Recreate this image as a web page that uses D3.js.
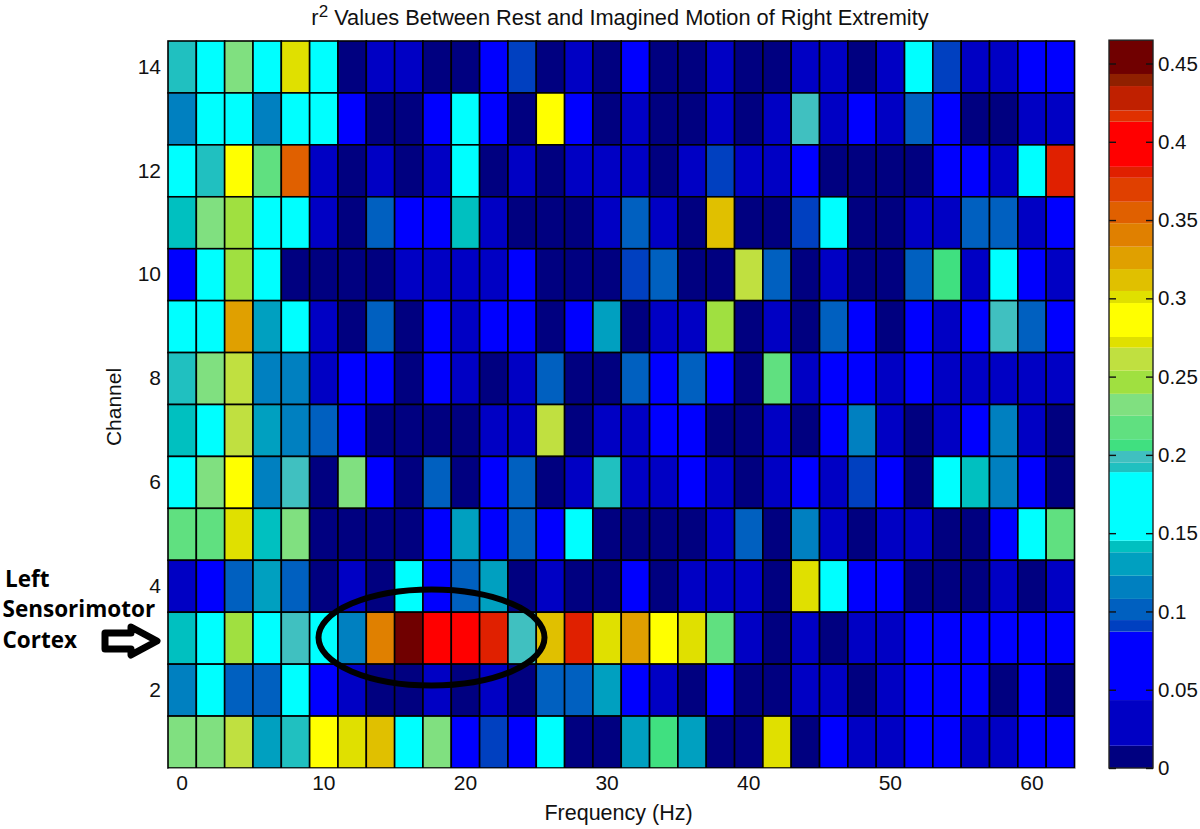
<!DOCTYPE html>
<html>
<head>
<meta charset="utf-8">
<script src="https://cdn.jsdelivr.net/npm/d3@7"></script>
<style>
  html, body { margin: 0; padding: 0; background: #fff; }
  svg { display: block; }
  text { font-family: "Liberation Sans", Arial, sans-serif; fill: #111; }
</style>
</head>
<body>
<svg id="graphsvg" width="1200" height="829"></svg>
<script>
var frequencies = d3.range(0, 64, 2);
var channels = [14, 13, 12, 11, 10, 9, 8, 7, 6, 5, 4, 3, 2, 1];

// r2 value per channel, top row first, one entry per frequency bin
var values = [
  [.192,.165,.232,.165,.272,.165,.007,.03,.03,.007,.007,.065,.09,.007,.03,.007, .065,.007,.007,.03,.007,.007,.03,.03,.007,.03,.165,.09,.03,.03,.065,.065],
  [.115,.165,.165,.115,.165,.165,.065,.007,.007,.065,.165,.065,.007,.285,.065,.007, .03,.007,.007,.03,.007,.03,.2,.03,.065,.03,.1,.065,.007,.007,.03,.03],
  [.165,.192,.285,.218,.355,.03,.007,.03,.007,.03,.165,.007,.03,.007,.03,.03, .03,.007,.03,.09,.03,.03,.065,.007,.007,.007,.007,.065,.065,.03,.165,.38],
  [.14,.232,.246,.165,.165,.03,.007,.1,.065,.065,.14,.03,.007,.007,.007,.03, .1,.03,.007,.31,.007,.007,.09,.165,.007,.007,.03,.03,.1,.1,.03,.065],
  [.065,.165,.246,.165,.007,.007,.007,.007,.03,.03,.03,.03,.065,.007,.007,.007, .09,.1,.007,.007,.26,.1,.007,.03,.007,.007,.1,.206,.03,.165,.065,.03],
  [.165,.165,.325,.13,.165,.03,.007,.1,.007,.065,.03,.065,.065,.007,.065,.13, .007,.03,.03,.246,.007,.03,.007,.1,.065,.007,.065,.03,.065,.2,.1,.065],
  [.192,.232,.26,.115,.115,.03,.065,.065,.007,.065,.03,.007,.03,.1,.007,.007, .1,.065,.1,.065,.007,.218,.03,.065,.065,.03,.065,.03,.03,.03,.03,.03],
  [.14,.165,.26,.13,.115,.1,.065,.007,.007,.007,.007,.03,.03,.26,.007,.03, .03,.065,.065,.007,.007,.03,.007,.065,.115,.03,.007,.03,.065,.115,.03,.007],
  [.165,.232,.285,.115,.2,.007,.232,.065,.007,.1,.007,.065,.1,.007,.03,.192, .03,.03,.065,.03,.007,.03,.065,.03,.09,.065,.007,.165,.14,.115,.065,.007],
  [.218,.218,.272,.14,.232,.007,.007,.007,.007,.065,.13,.065,.1,.065,.165,.007, .007,.007,.007,.03,.1,.007,.115,.03,.007,.03,.03,.007,.007,.065,.165,.218],
  [.03,.065,.1,.13,.1,.007,.03,.007,.165,.065,.1,.13,.007,.03,.007,.007, .065,.007,.03,.03,.03,.007,.272,.165,.065,.065,.007,.007,.007,.03,.007,.03],
  [.14,.165,.246,.165,.2,.165,.115,.34,.455,.4,.4,.38,.2,.31,.38,.272, .325,.285,.272,.218,.03,.007,.03,.007,.03,.03,.065,.065,.065,.065,.065,.065],
  [.115,.165,.1,.1,.165,.065,.03,.007,.007,.03,.007,.03,.007,.1,.1,.13, .065,.03,.007,.065,.007,.007,.03,.03,.007,.03,.065,.065,.065,.007,.065,.007],
  [.232,.232,.26,.13,.192,.285,.272,.31,.165,.232,.065,.09,.065,.165,.007,.007, .13,.206,.13,.007,.007,.272,.007,.065,.03,.03,.065,.065,.03,.03,.065,.065]
];

// the colour map of the picture, with uneven steps
var colorBreaks = [.0142,.0434,.0871,.0945,.108,.1228,.1378,.1452,.189,.195,.2025,.21,.225,.239,.2538,.2685,.2753,.297,.3047,.3187,.333,.348,.3617,.377,.384,.4128,.42,.4356,.4433];
var colorRange = ["#000080","#0000c4","#0000ff","#0040c0","#0060c0","#0080c0","#00a0c0","#00c0c0","#00ffff","#20c0c0","#40c0c0","#40e080","#60e080","#80e080","#a0e040","#c0e040","#e0e000","#ffff00","#e0e000","#e0c000","#e0a000","#e08000","#e06000","#e04000","#e02000","#ff0000","#e03000","#c02000","#902000","#700000"];
var colorTicks = [0, .05, .1, .15, .2, .25, .3, .35, .4, .45];
var maxValue = .4649;

var freqTicks = [0, 10, 20, 30, 40, 50, 60];
var channelTicks = [2, 4, 6, 8, 10, 12, 14];
var noteLines = ["Left", "Sensorimotor", "Cortex"];

var svg = d3.select("#graphsvg");

var x = d3.scaleBand().domain(frequencies).range([168, 1074.5]);
var y = d3.scaleBand().domain(channels).range([41, 768]);
var color = d3.scaleThreshold().domain(colorBreaks).range(colorRange);
var cy = d3.scaleLinear().domain([0, .45]).range([768, 63.5]);

var cells = [];
values.forEach(function(row, i) {
  row.forEach(function(v, j) {
    cells.push({channel: channels[i], freq: frequencies[j], value: v});
  });
});

svg.append("g").selectAll("rect")
    .data(cells)
  .enter().append("rect")
    .attr("x", function(d) { return x(d.freq); })
    .attr("y", function(d) { return y(d.channel); })
    .attr("width", x.bandwidth())
    .attr("height", y.bandwidth())
    .attr("fill", function(d) { return color(d.value); })
    .attr("stroke", "#000")
    .attr("stroke-width", 1.6);

var xAxis = svg.append("g")
    .attr("transform", "translate(0,768)")
    .call(d3.axisBottom(x).tickValues(freqTicks).tickSize(0).tickPadding(7));
var yAxis = svg.append("g")
    .attr("transform", "translate(168,0)")
    .call(d3.axisLeft(y).tickValues(channelTicks).tickSize(0).tickPadding(7));
xAxis.select(".domain").attr("stroke", "#999");
yAxis.select(".domain").attr("stroke", "none");
xAxis.selectAll("text").style("font-size", "21px").attr("fill", "#111");
yAxis.selectAll("text").style("font-size", "21px").attr("fill", "#111");

// light edge on the right of the plot box
svg.append("line")
    .attr("x1", 1075.5).attr("x2", 1075.5)
    .attr("y1", 41).attr("y2", 768)
    .attr("stroke", "#aaa");

svg.append("text")
    .attr("x", 618.5).attr("y", 820)
    .attr("text-anchor", "middle")
    .style("font-size", "21.5px")
    .text("Frequency (Hz)");

svg.append("text")
    .attr("transform", "translate(121,407) rotate(-90)")
    .attr("text-anchor", "middle")
    .style("font-size", "21px")
    .text("Channel");

var title = svg.append("text")
    .attr("x", 620).attr("y", 25)
    .attr("text-anchor", "middle")
    .style("font-size", "21.8px");
title.append("tspan").text("r");
title.append("tspan").attr("dy", -8).style("font-size", "17px").text("2");
title.append("tspan").attr("dy", 8).text(" Values Between Rest and Imagined Motion of Right Extremity");

// colour bar, one rect per step of the map
var bar = svg.append("g");
var barBands = colorRange.map(function(c, i) {
  return {color: c, low: i ? colorBreaks[i - 1] : 0, high: i < colorBreaks.length ? colorBreaks[i] : maxValue};
});
bar.selectAll("rect")
    .data(barBands)
  .enter().append("rect")
    .attr("x", 1109)
    .attr("width", 44)
    .attr("y", function(d) { return cy(d.high); })
    .attr("height", function(d) { return cy(d.low) - cy(d.high); })
    .attr("fill", function(d) { return d.color; });
bar.append("rect")
    .attr("x", 1109).attr("y", cy(maxValue))
    .attr("width", 44).attr("height", cy(0) - cy(maxValue))
    .attr("fill", "none").attr("stroke", "#222").attr("stroke-width", 1.4);

var barAxis = svg.append("g")
    .attr("transform", "translate(1153,0)")
    .call(d3.axisRight(cy).tickValues(colorTicks).tickFormat(function(d) { return d; }).tickSize(-7).tickPadding(13));
barAxis.select(".domain").remove();
barAxis.selectAll("line").attr("stroke", "#111").attr("stroke-width", 1.4);
barAxis.selectAll("text").attr("x", 5).style("font-size", "20.5px").attr("fill", "#111");
svg.append("g")
    .attr("transform", "translate(1109,0)")
    .call(d3.axisRight(cy).tickValues(colorTicks).tickFormat("").tickSize(7))
    .call(function(g) {
      g.select(".domain").remove();
      g.selectAll("line").attr("stroke", "#111").attr("stroke-width", 1.4);
    });

// circled band and the label on the left
svg.append("ellipse")
    .attr("cx", 431.5).attr("cy", 637.5)
    .attr("rx", 113).attr("ry", 48)
    .attr("fill", "none").attr("stroke", "#000").attr("stroke-width", 6);

svg.append("path")
    .attr("d", "M105,633H131V627L157,641L131,655V649H105Z")
    .attr("fill", "#fff").attr("stroke", "#000")
    .attr("stroke-width", 7).attr("stroke-linejoin", "round");

svg.selectAll(".note")
    .data(noteLines)
  .enter().append("text")
    .attr("class", "note")
    .attr("x", function(d, i) { return i ? 2.5 : 5; })
    .attr("y", function(d, i) { return 586.5 + i * 30.8; })
    .style("font-family", "'Open Sans', sans-serif")
    .style("font-weight", 700)
    .style("font-size", "22.5px")
    .style("fill", "#000")
    .text(function(d) { return d; });
</script>
</body>
</html>
